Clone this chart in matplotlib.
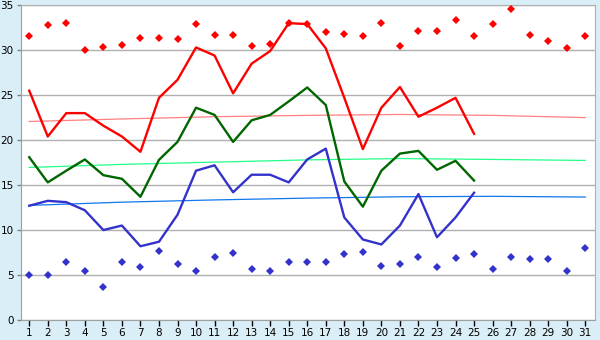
import matplotlib
matplotlib.use('Agg')
import matplotlib.pyplot as plt
import numpy as np

# day of month
days = list(range(1, 32))
days_obs = list(range(1, 26))

# daily max / mean / min (days 1-25)
t_max = [25.5, 20.4, 23.0, 23.0, 21.6, 20.4, 18.7, 24.7, 26.7, 30.3,
         29.4, 25.2, 28.5, 29.9, 33.0, 32.9, 30.2, 24.7, 19.0, 23.6,
         25.9, 22.6, 23.6, 24.7, 20.7]
t_mean = [18.1, 15.3, 16.6, 17.85, 16.1, 15.7, 13.7, 17.8, 19.8, 23.6,
          22.8, 19.8, 22.2, 22.8, 24.3, 25.85, 23.9, 15.4, 12.6, 16.6,
          18.5, 18.8, 16.7, 17.7, 15.5]
t_min = [12.7, 13.25, 13.1, 12.2, 10.0, 10.5, 8.2, 8.7, 11.7, 16.6,
         17.2, 14.2, 16.15, 16.15, 15.3, 17.85, 19.05, 11.4, 8.95, 8.4,
         10.5, 14.0, 9.2, 11.4, 14.15]

# record values for each day
rec_max = [31.6, 32.8, 33.0, 30.0, 30.3, 30.6, 31.3, 31.3, 31.2, 32.9,
           31.7, 31.7, 30.5, 30.7, 33.0, 32.9, 32.0, 31.85, 31.6, 33.0,
           30.5, 32.1, 32.1, 33.4, 31.6, 32.9, 34.6, 31.7, 31.0, 30.2, 31.6]
rec_min = [5.05, 4.95, 6.5, 5.5, 3.7, 6.4, 5.85, 7.7, 6.2, 5.5,
           6.95, 7.5, 5.7, 5.4, 6.4, 6.5, 6.5, 7.3, 7.6, 6.05,
           6.2, 7.05, 5.85, 6.85, 7.3, 5.7, 6.95, 6.75, 6.75, 5.5, 7.95]

# normal (trend) curves, read at a few days
trend_days = [1, 6, 11, 16, 21, 26, 31]
trend_max = [22.07, 22.35, 22.6, 22.75, 22.85, 22.75, 22.5]
trend_mean = [16.96, 17.3, 17.55, 17.8, 17.95, 17.85, 17.74]
trend_min = [12.74, 13.1, 13.35, 13.55, 13.7, 13.75, 13.67]

bg = '#d9eef6'
fig = plt.figure(figsize=(6, 3.4), dpi=100, facecolor=bg)
ax = fig.add_axes([0.0345, 0.0588, 0.957, 0.926])
ax.set_facecolor('white')

# trend curves
ax.plot(trend_days, trend_max, color='#ff8080', lw=0.9, zorder=2)
ax.plot(trend_days, trend_mean, color='#22ff88', lw=0.9, zorder=2)
ax.plot(trend_days, trend_min, color='#1177ee', lw=0.9, zorder=2)

# observed lines
ax.plot(days_obs, t_max, color='#ff0000', lw=1.7, zorder=3)
ax.plot(days_obs, t_mean, color='#006600', lw=1.7, zorder=3)
ax.plot(days_obs, t_min, color='#3333cc', lw=1.7, zorder=3)

# records
ax.plot(days, rec_max, ls='none', marker='D', ms=3.6, color='#ff0000',
        markeredgewidth=0, zorder=4)
ax.plot(days, rec_min, ls='none', marker='D', ms=3.6, color='#3333cc',
        markeredgewidth=0, zorder=4)

ax.set_xlim(0.54, 31.52)
ax.set_ylim(0, 35)
ax.set_xticks(days)
ax.set_yticks(range(0, 36, 5))
ax.yaxis.grid(True, color='#b0b0b0', lw=1)
ax.set_axisbelow(True)
ax.tick_params(axis='both', labelsize=7.5, colors='#000000', length=4,
               width=1, direction='out', pad=2)
ax.tick_params(axis='y', color='#808080', length=3)

for s in ['top', 'right']:
    ax.spines[s].set_color('#b0b0b0')
ax.spines['left'].set_color('#a0a0a0')
ax.spines['bottom'].set_color('#a0a0a0')

fig.savefig('out.png', dpi=100, facecolor=bg)
